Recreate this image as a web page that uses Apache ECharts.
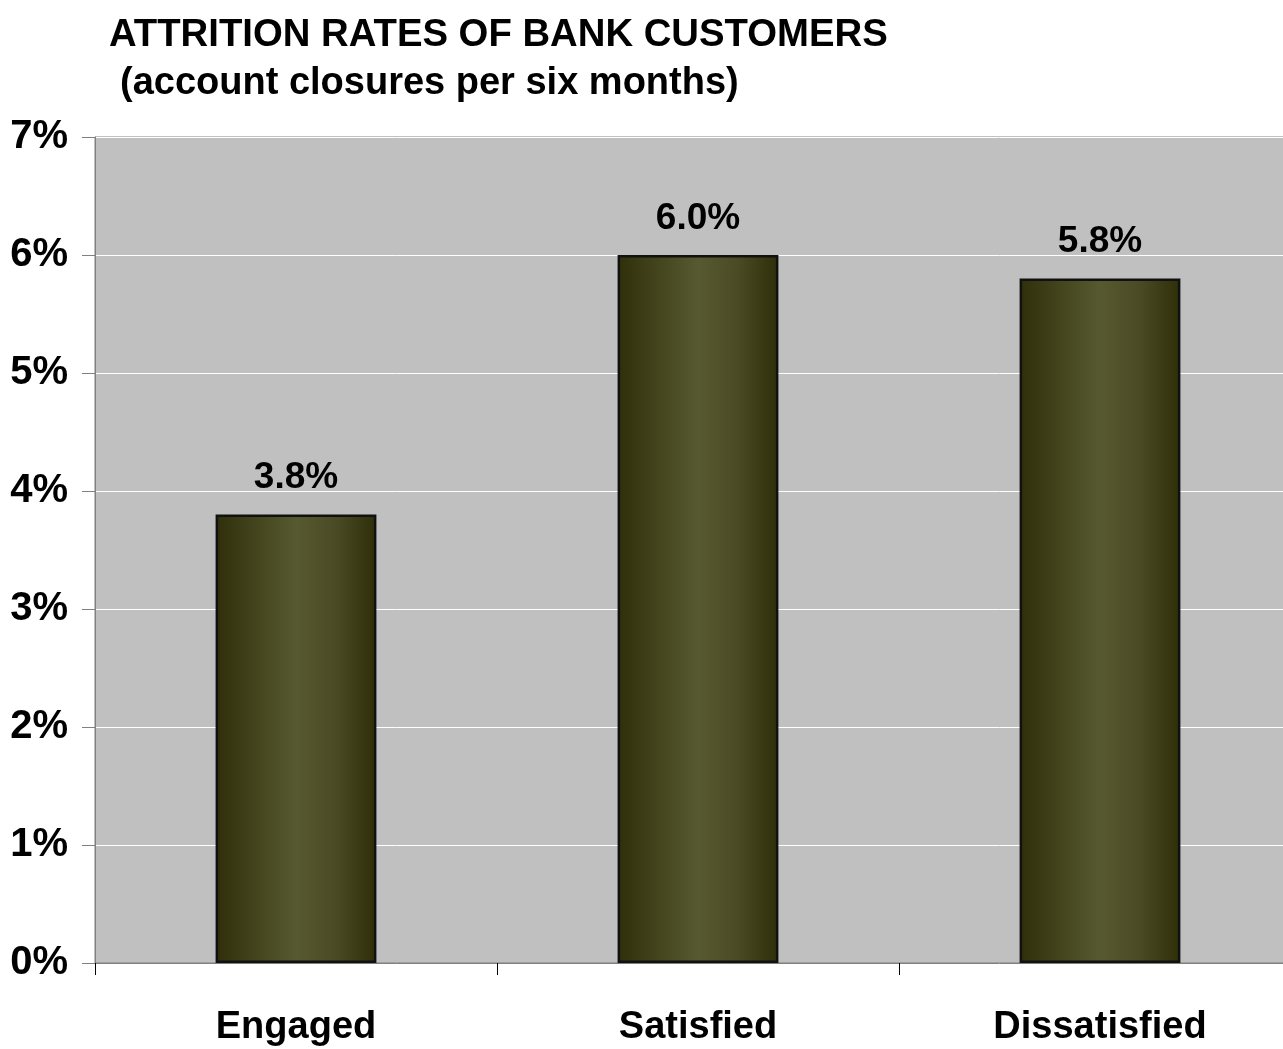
<!DOCTYPE html>
<html>
<head>
<meta charset="utf-8">
<script src="https://cdn.jsdelivr.net/npm/echarts@6/dist/echarts.min.js"></script>
<style>
  html, body { margin: 0; padding: 0; background: #ffffff; overflow: hidden; }
  /* the plot area runs slightly past the right edge of the page */
  #chart { width: 1301px; height: 1049px; }
</style>
</head>
<body>
<div id="chart"></div>
<script>
// Attrition rates by customer segment (% of accounts closed per six months)
const categories = ['Engaged', 'Satisfied', 'Dissatisfied'];
const attritionRates = [3.8, 6.0, 5.8];
const yTicks = [0, 1, 2, 3, 4, 5, 6, 7];

const FONT = '"Liberation Sans", Arial, sans-serif';

const barFill = new echarts.graphic.LinearGradient(0, 0, 1, 0, [
  { offset: 0, color: '#2f300a' },
  { offset: 0.5, color: '#575930' },
  { offset: 0.75, color: '#4a4b25' },
  { offset: 1, color: '#2e2f08' }
]);

const chart = echarts.init(document.getElementById('chart'), null, { renderer: 'canvas' });
chart.setOption({
  backgroundColor: '#ffffff',
  animation: false,
  title: [
    {
      text: 'ATTRITION RATES OF BANK CUSTOMERS',
      left: 104, top: 11,
      textStyle: { fontFamily: FONT, fontWeight: 'bold', fontSize: 38.3, color: '#000' }
    },
    {
      text: '(account closures per six months)',
      left: 115, top: 60,
      textStyle: { fontFamily: FONT, fontWeight: 'bold', fontSize: 38, color: '#000' }
    }
  ],
  grid: {
    left: 95, top: 137, right: 0, bottom: 86,
    show: true,
    backgroundColor: '#c0c0c0',
    borderColor: '#808080',
    borderWidth: 1
  },
  xAxis: {
    type: 'category',
    data: categories,
    boundaryGap: true,
    axisLine: { lineStyle: { color: '#808080', width: 1 } },
    axisTick: { show: true, length: 12, alignWithLabel: false, lineStyle: { color: '#000' } },
    axisLabel: {
      fontFamily: FONT, fontWeight: 'bold', fontSize: 38, color: '#000', margin: 46
    }
  },
  yAxis: {
    type: 'value',
    min: yTicks[0],
    max: yTicks[yTicks.length - 1],
    interval: 1,
    axisLine: { show: true, lineStyle: { color: '#808080', width: 1 } },
    axisTick: { show: true, length: 13, lineStyle: { color: '#808080' } },
    splitLine: { show: true, lineStyle: { color: '#ffffff', width: 1 } },
    axisLabel: {
      fontFamily: FONT, fontWeight: 'bold', fontSize: 40, color: '#000', margin: 27,
      formatter: v => v + '%'
    }
  },
  series: [{
    type: 'bar',
    data: attritionRates,
    barWidth: '40%',
    itemStyle: { color: barFill, borderColor: '#111', borderWidth: 2.5 },
    label: {
      show: true, position: 'top', distance: 18,
      fontFamily: FONT, fontWeight: 'bold', fontSize: 37, color: '#000',
      formatter: p => p.value.toFixed(1) + '%'
    }
  }]
});
</script>
</body>
</html>
